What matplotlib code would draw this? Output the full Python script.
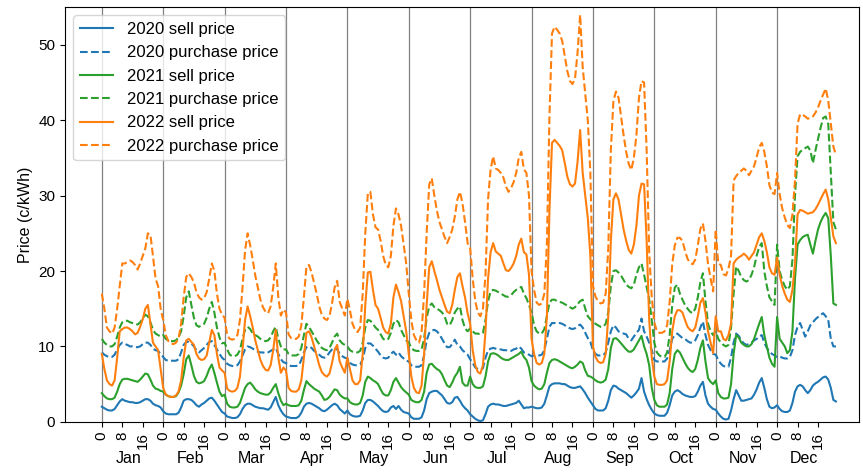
import numpy as np
import matplotlib
matplotlib.use("Agg")
import matplotlib.pyplot as plt
import matplotlib.transforms as mtransforms

plt.rcParams['font.family'] = ['Liberation Sans', 'DejaVu Sans']

months = ['Jan', 'Feb', 'Mar', 'Apr', 'May', 'Jun',
          'Jul', 'Aug', 'Sep', 'Oct', 'Nov', 'Dec']
hour_ticks = [0, 8, 16]

# average hourly prices (c/kWh), one row of 24 hours per month
sell_2020 = [
    [2.0, 1.8, 1.6, 1.5, 1.5, 1.7, 2.2, 2.7, 3.0, 2.8, 2.7, 2.6, 2.6, 2.5, 2.5, 2.6, 2.8, 3.0, 3.0, 2.8, 2.4, 2.2, 2.1, 1.9],
    [1.4, 1.1, 1.0, 1.0, 1.0, 1.0, 1.2, 1.9, 2.8, 3.0, 3.0, 2.9, 2.6, 2.2, 2.0, 2.3, 2.5, 2.8, 3.1, 3.2, 2.8, 2.3, 1.8, 1.3],
    [1.1, 0.7, 0.6, 0.5, 0.5, 0.6, 1.0, 1.7, 2.2, 2.4, 2.4, 2.2, 2.0, 1.9, 1.8, 1.8, 1.7, 1.6, 1.9, 2.6, 3.3, 2.2, 1.5, 1.0],
    [0.7, 0.6, 0.5, 0.5, 0.5, 0.7, 1.2, 2.0, 2.4, 2.5, 2.4, 2.2, 2.0, 1.8, 1.5, 1.4, 1.6, 1.9, 2.2, 2.4, 2.2, 1.7, 1.4, 1.1],
    [1.5, 1.0, 0.8, 0.7, 0.7, 0.8, 1.5, 2.5, 2.9, 2.9, 2.7, 2.4, 2.1, 1.7, 1.4, 1.3, 1.4, 1.9, 2.1, 1.7, 2.1, 1.6, 1.3, 1.2],
    [1.1, 0.6, 0.4, 0.4, 0.4, 0.6, 1.5, 3.0, 3.8, 4.0, 4.1, 4.1, 3.8, 3.5, 3.0, 2.5, 2.4, 2.6, 3.2, 3.3, 2.8, 2.2, 1.8, 1.5],
    [1.0, 0.7, 0.4, 0.2, 0.1, 0.2, 1.0, 2.0, 2.3, 2.4, 2.3, 2.3, 2.2, 2.1, 2.1, 2.2, 2.3, 2.4, 2.5, 2.8, 2.3, 1.8, 1.9, 1.9],
    [2.0, 1.9, 1.8, 1.8, 1.9, 2.4, 3.5, 4.7, 5.0, 5.1, 5.1, 5.1, 5.0, 5.0, 4.8, 4.6, 4.5, 4.5, 4.6, 4.7, 4.3, 3.8, 3.2, 2.7],
    [2.2, 1.7, 1.5, 1.5, 1.5, 1.8, 2.8, 4.2, 4.8, 4.7, 4.4, 4.2, 4.0, 3.8, 3.5, 3.2, 3.5, 3.9, 4.4, 5.8, 4.0, 3.0, 2.2, 1.6],
    [1.1, 0.9, 0.8, 0.8, 0.8, 1.2, 2.2, 3.5, 4.0, 4.2, 4.0, 3.7, 3.5, 3.4, 3.3, 3.3, 3.4, 4.0, 4.8, 5.3, 3.5, 2.4, 2.0, 1.7],
    [1.6, 1.1, 0.7, 0.4, 0.3, 0.4, 1.5, 3.0, 4.2, 3.5, 2.8, 2.8, 2.9, 3.0, 3.1, 3.6, 4.3, 5.2, 5.8, 4.5, 3.0, 2.0, 1.8, 1.9],
    [2.2, 1.7, 1.4, 1.3, 1.3, 1.5, 2.5, 4.0, 4.7, 4.9, 4.7, 4.2, 3.8, 4.2, 4.8, 5.1, 5.3, 5.6, 5.9, 6.0, 5.6, 4.5, 2.9, 2.7],
]
purchase_2020 = [
    [9.2, 8.9, 8.7, 8.6, 8.6, 8.9, 9.6, 10.2, 10.5, 10.3, 10.2, 10.0, 10.0, 9.9, 9.9, 10.0, 10.3, 10.5, 10.5, 10.2, 9.7, 9.5, 9.4, 9.0],
    [8.6, 8.2, 8.1, 8.1, 8.1, 8.1, 8.3, 9.2, 10.2, 10.6, 10.6, 10.4, 10.0, 9.5, 9.2, 9.5, 9.8, 10.2, 10.6, 10.7, 10.2, 9.6, 9.0, 8.5],
    [8.2, 7.7, 7.5, 7.4, 7.4, 7.5, 8.0, 8.8, 9.6, 10.0, 9.9, 9.7, 9.5, 9.3, 9.2, 9.2, 9.1, 9.2, 9.4, 9.6, 9.8, 9.0, 8.3, 7.9],
    [7.8, 7.5, 7.4, 7.4, 7.4, 7.5, 8.2, 9.2, 9.9, 10.0, 9.8, 9.4, 9.2, 8.9, 8.6, 8.5, 8.7, 9.2, 9.6, 9.9, 9.6, 9.0, 8.7, 8.5],
    [8.4, 7.8, 7.6, 7.5, 7.5, 7.6, 8.3, 9.8, 10.4, 10.4, 10.1, 9.7, 9.3, 8.8, 8.5, 8.4, 8.5, 9.0, 9.3, 8.9, 9.2, 8.7, 8.4, 8.1],
    [8.0, 7.5, 7.3, 7.3, 7.3, 7.5, 8.8, 10.8, 11.8, 12.1, 12.2, 12.0, 11.6, 11.0, 10.4, 9.9, 9.9, 10.3, 10.9, 10.2, 10.0, 9.5, 9.2, 8.9],
    [8.3, 7.8, 7.2, 7.0, 6.9, 7.1, 8.5, 9.5, 9.7, 9.8, 9.7, 9.6, 9.6, 9.5, 9.5, 9.4, 9.4, 9.6, 9.7, 10.0, 9.7, 9.2, 9.1, 8.9],
    [8.7, 8.8, 8.8, 8.8, 8.9, 9.5, 11.0, 12.6, 13.1, 13.1, 13.1, 13.1, 13.0, 12.8, 12.6, 12.4, 12.3, 12.4, 12.7, 12.9, 12.5, 11.8, 11.1, 10.6],
    [9.5, 9.0, 8.8, 8.8, 8.8, 9.2, 10.5, 12.0, 12.8, 12.5, 12.0, 11.8, 11.7, 11.6, 11.0, 10.8, 11.3, 11.8, 12.2, 13.7, 12.0, 11.3, 10.5, 9.5],
    [8.2, 8.0, 8.0, 8.0, 8.0, 8.4, 9.5, 11.0, 11.5, 11.7, 11.4, 11.1, 11.0, 10.7, 10.5, 10.5, 10.8, 11.5, 12.5, 13.3, 11.5, 10.2, 9.5, 9.0],
    [8.9, 8.2, 7.7, 7.4, 7.3, 7.3, 8.5, 10.5, 11.7, 11.4, 10.8, 10.4, 10.2, 10.3, 10.5, 10.8, 11.0, 11.3, 11.5, 10.5, 9.8, 9.3, 9.0, 8.8],
    [8.6, 8.7, 8.5, 8.4, 8.4, 8.6, 9.5, 11.5, 12.6, 13.1, 12.2, 11.3, 12.0, 12.8, 13.2, 13.6, 13.9, 14.2, 14.4, 14.0, 13.5, 11.0, 10.0, 10.0],
]
sell_2021 = [
    [3.8, 3.4, 3.1, 3.0, 3.0, 3.2, 4.0, 5.0, 5.6, 5.7, 5.7, 5.6, 5.5, 5.4, 5.3, 5.6, 6.0, 6.4, 6.3, 5.6, 4.8, 4.4, 4.3, 4.1],
    [4.0, 3.6, 3.4, 3.3, 3.3, 3.4, 3.9, 4.8, 6.3, 8.3, 8.8, 7.5, 6.1, 5.3, 5.1, 5.2, 5.4, 6.1, 7.0, 7.6, 6.5, 5.2, 4.0, 3.4],
    [3.6, 2.4, 2.0, 1.9, 1.9, 2.0, 2.5, 3.5, 4.5, 5.0, 5.2, 4.8, 4.3, 4.0, 3.8, 3.7, 3.6, 3.6, 3.9, 4.5, 5.0, 3.8, 2.8, 2.2],
    [2.4, 2.2, 2.1, 2.1, 2.1, 2.2, 2.8, 4.2, 5.4, 5.0, 4.7, 4.4, 4.2, 4.0, 3.5, 2.9, 3.0, 3.3, 3.8, 4.3, 4.2, 3.6, 3.3, 3.1],
    [3.1, 2.6, 2.4, 2.3, 2.3, 2.5, 3.5, 5.3, 6.0, 5.8, 5.5, 5.3, 5.0, 4.3, 3.7, 3.5, 3.5, 4.2, 5.3, 5.8, 5.2, 4.6, 4.2, 3.9],
    [3.6, 2.9, 2.7, 2.6, 2.6, 2.9, 4.0, 6.5, 7.6, 7.7, 7.3, 7.0, 6.8, 6.3, 5.5, 4.8, 4.6, 5.2, 6.0, 6.5, 7.3, 5.2, 4.8, 4.8],
    [6.0, 5.0, 4.6, 4.5, 4.5, 4.7, 6.0, 8.0, 9.0, 9.1, 9.0, 8.8, 8.5, 8.3, 8.2, 8.2, 8.4, 8.6, 8.8, 9.0, 9.3, 8.6, 8.2, 7.2],
    [5.4, 4.8, 4.5, 4.3, 4.4, 5.0, 6.5, 7.8, 8.2, 8.3, 8.2, 8.0, 7.8, 7.6, 7.4, 7.2, 7.1, 7.3, 7.6, 8.0, 7.8, 6.8, 6.1, 6.0],
    [5.8, 5.5, 5.3, 5.2, 5.3, 5.6, 7.0, 9.8, 11.0, 11.1, 10.8, 10.4, 10.0, 9.6, 9.3, 9.3, 9.6, 10.2, 10.8, 11.4, 10.0, 9.0, 7.5, 4.5],
    [2.9, 2.2, 2.0, 2.0, 2.0, 2.3, 3.8, 7.0, 9.0, 9.5, 9.2, 8.5, 7.8, 7.2, 6.8, 6.6, 7.0, 8.2, 9.8, 10.8, 8.0, 5.8, 5.3, 5.0],
    [5.5, 3.8, 3.3, 3.1, 3.1, 3.2, 5.0, 9.0, 11.5, 11.2, 10.5, 10.2, 10.0, 10.0, 10.3, 11.0, 12.0, 13.0, 13.9, 11.5, 10.0, 8.5, 7.7, 7.3],
    [13.9, 11.0, 10.5, 10.0, 9.1, 9.5, 12.0, 19.0, 23.5, 24.1, 24.5, 24.7, 24.8, 23.5, 22.3, 24.0, 25.5, 26.5, 27.2, 27.7, 27.0, 22.0, 15.7, 15.5],
]
purchase_2021 = [
    [11.0, 10.5, 10.2, 10.0, 10.0, 10.3, 11.3, 12.5, 13.2, 13.4, 13.4, 13.2, 13.1, 13.0, 12.9, 13.2, 13.7, 14.2, 14.0, 13.2, 12.2, 11.7, 11.5, 11.3],
    [11.5, 11.0, 10.8, 10.7, 10.7, 10.8, 11.2, 12.0, 14.0, 16.5, 17.3, 15.5, 13.8, 12.8, 12.6, 12.8, 13.0, 13.8, 15.0, 15.9, 14.5, 12.5, 11.2, 10.4],
    [10.5, 9.6, 8.9, 8.7, 8.7, 8.9, 9.5, 11.0, 12.2, 12.6, 12.3, 11.7, 11.5, 11.3, 11.0, 10.8, 10.7, 10.8, 11.2, 12.0, 12.6, 11.0, 10.0, 9.6],
    [9.6, 9.0, 8.8, 8.8, 8.8, 9.0, 9.8, 11.5, 13.0, 12.6, 12.0, 11.4, 10.8, 10.3, 9.8, 9.6, 9.5, 9.8, 10.5, 11.3, 11.7, 10.8, 10.4, 10.2],
    [10.0, 9.5, 9.3, 9.2, 9.2, 9.4, 10.5, 12.5, 13.5, 13.4, 13.0, 12.5, 12.2, 11.6, 11.0, 10.8, 11.0, 11.8, 13.0, 13.5, 13.2, 12.2, 11.5, 10.8],
    [10.5, 9.8, 9.5, 9.4, 9.4, 9.6, 11.0, 13.8, 15.3, 15.7, 15.2, 15.0, 14.8, 14.5, 14.0, 13.0, 12.8, 13.5, 14.5, 15.0, 15.3, 13.5, 12.4, 12.0],
    [12.4, 12.0, 11.7, 11.7, 11.6, 11.8, 13.5, 16.0, 17.3, 17.5, 17.4, 17.2, 17.0, 16.8, 16.6, 16.6, 16.8, 17.2, 17.5, 17.7, 17.9, 17.0, 16.4, 15.5],
    [14.5, 12.8, 12.0, 11.7, 11.7, 12.3, 14.0, 15.8, 16.2, 16.2, 16.0, 15.9, 15.8, 15.6, 15.4, 15.2, 15.0, 15.2, 15.6, 16.0, 16.2, 15.0, 14.0, 13.6],
    [13.3, 13.0, 12.8, 12.6, 12.6, 13.0, 14.5, 18.0, 20.0, 20.1, 19.8, 19.4, 18.8, 18.2, 17.9, 17.7, 18.2, 19.5, 20.5, 21.0, 19.5, 17.9, 16.2, 13.5],
    [10.5, 9.2, 8.8, 8.6, 8.6, 9.2, 11.5, 15.5, 17.8, 18.2, 17.0, 16.2, 15.5, 15.0, 14.6, 14.4, 15.0, 16.5, 18.5, 19.7, 16.0, 13.0, 12.0, 11.5],
    [12.0, 11.0, 10.5, 10.2, 10.0, 10.2, 12.5, 17.0, 20.6, 20.0, 19.2, 18.8, 18.6, 18.8, 19.5, 20.5, 22.0, 23.2, 23.7, 20.0, 18.0, 16.5, 16.0, 15.5],
    [23.5, 20.0, 18.8, 18.0, 17.5, 18.0, 21.5, 30.0, 35.2, 35.8, 36.1, 36.3, 36.5, 36.0, 34.3, 36.0, 37.5, 39.0, 40.3, 40.5, 39.5, 33.0, 26.5, 25.5],
]
sell_2022 = [
    [9.0, 7.0, 5.5, 5.0, 4.8, 5.5, 8.5, 12.0, 12.3, 12.5, 12.5, 12.3, 12.0, 11.6, 11.8, 12.6, 13.6, 15.0, 15.5, 13.0, 10.5, 10.0, 9.5, 7.0],
    [4.5, 3.6, 3.4, 3.3, 3.3, 3.5, 4.0, 5.5, 8.5, 10.8, 11.0, 10.6, 10.2, 9.0, 8.4, 8.2, 8.3, 8.8, 10.5, 12.2, 11.5, 9.0, 7.2, 6.8],
    [6.5, 4.4, 4.1, 4.0, 4.1, 4.5, 6.0, 9.5, 13.5, 15.3, 14.0, 12.5, 10.8, 9.5, 8.2, 7.4, 6.9, 6.8, 7.5, 9.5, 12.2, 8.5, 6.5, 7.2],
    [6.8, 4.5, 4.1, 4.0, 4.0, 4.3, 5.5, 8.5, 11.8, 12.0, 11.2, 10.0, 8.8, 7.5, 6.6, 6.2, 6.0, 6.4, 7.8, 9.5, 10.2, 8.0, 7.2, 6.5],
    [8.5, 7.0, 5.5, 5.0, 5.0, 5.5, 9.0, 15.5, 19.8, 19.9, 17.5, 15.5, 15.0, 13.8, 12.5, 11.9, 11.7, 13.0, 16.5, 18.2, 17.2, 16.0, 14.0, 12.0],
    [9.0, 6.0, 4.5, 3.9, 3.8, 4.8, 9.0, 15.5, 20.5, 21.3, 20.0, 18.8, 17.5, 16.5, 15.5, 14.6, 14.4, 15.5, 17.5, 19.2, 19.7, 18.0, 16.5, 14.4],
    [13.0, 9.5, 7.5, 6.6, 6.4, 7.5, 12.0, 19.0, 22.5, 23.7, 22.6, 22.3, 22.0, 21.0, 20.1, 20.0, 20.4, 21.0, 22.0, 23.5, 24.3, 22.5, 22.2, 19.5],
    [11.0, 9.0, 7.8, 7.6, 7.8, 9.0, 14.0, 28.0, 37.0, 37.4, 37.0, 36.6, 36.0, 34.3, 32.5, 31.5, 31.2, 31.6, 34.5, 38.7, 33.0, 30.0, 27.0, 22.0],
    [10.0, 8.6, 8.0, 7.8, 7.9, 9.0, 14.0, 24.0, 29.5, 30.3, 29.5, 27.5, 25.5, 24.0, 22.8, 22.3, 23.5, 26.0, 30.0, 31.6, 31.5, 24.0, 13.5, 8.5],
    [6.0, 5.0, 4.9, 4.9, 5.0, 5.5, 8.0, 12.0, 14.0, 14.8, 14.8, 14.5, 13.5, 12.6, 12.2, 12.0, 12.5, 14.0, 15.8, 16.4, 14.5, 12.0, 10.5, 9.1],
    [14.0, 12.0, 12.0, 11.0, 10.8, 11.5, 13.0, 21.0, 21.5, 21.8, 22.0, 22.3, 22.0, 21.5, 22.0, 22.5, 23.5, 24.5, 25.0, 24.0, 22.5, 20.5, 19.7, 19.5],
    [21.8, 19.5, 18.0, 17.0, 16.2, 15.9, 17.5, 21.0, 27.5, 28.1, 28.0, 27.8, 27.6, 27.7, 27.8, 28.2, 28.8, 29.5, 30.2, 30.8, 29.5, 27.0, 24.6, 23.7],
]
purchase_2022 = [
    [17.0, 15.0, 12.5, 12.0, 11.7, 12.5, 15.0, 18.0, 21.0, 21.0, 21.2, 21.4, 21.2, 20.8, 20.2, 21.0, 22.0, 23.0, 25.0, 24.8, 22.0, 19.0, 18.0, 15.0],
    [13.5, 11.5, 10.7, 10.4, 10.3, 10.5, 11.0, 13.0, 16.5, 19.2, 19.7, 19.2, 18.5, 17.2, 16.5, 16.2, 16.4, 17.2, 19.0, 21.0, 20.0, 17.0, 15.0, 14.2],
    [13.8, 11.5, 11.0, 10.9, 11.0, 11.5, 13.5, 17.8, 22.7, 25.0, 23.4, 21.5, 19.4, 17.8, 16.2, 15.2, 14.6, 14.4, 15.3, 17.8, 21.0, 16.5, 14.1, 14.9],
    [14.5, 11.6, 11.1, 11.0, 11.0, 11.3, 12.8, 16.5, 20.6, 20.8, 19.8, 18.4, 17.0, 15.3, 14.2, 13.7, 13.5, 14.0, 15.7, 17.8, 18.7, 15.9, 15.0, 14.1],
    [16.3, 14.8, 13.0, 12.2, 11.9, 12.5, 17.0, 25.0, 30.3, 30.5, 27.5, 25.8, 25.5, 24.0, 22.0, 20.8, 20.5, 22.0, 26.0, 28.3, 27.5, 26.0, 23.5, 21.0],
    [17.0, 13.5, 11.5, 10.8, 10.5, 11.8, 17.0, 25.0, 31.5, 32.3, 30.0, 28.0, 26.5, 25.5, 24.5, 23.7, 24.5, 25.5, 27.2, 29.5, 30.5, 29.0, 26.5, 23.7],
    [23.0, 19.0, 16.0, 14.5, 14.0, 15.0, 19.5, 29.5, 33.5, 35.2, 33.6, 33.4, 33.0, 32.4, 31.2, 30.5, 31.0, 31.8, 33.0, 35.0, 35.8, 33.5, 33.0, 30.0],
    [20.0, 17.5, 15.8, 15.5, 15.7, 17.0, 23.5, 40.5, 51.5, 52.4, 52.0, 51.5, 50.5, 48.5, 46.5, 45.2, 44.8, 45.5, 49.0, 54.0, 47.0, 43.5, 40.0, 33.0],
    [18.0, 16.6, 16.0, 15.7, 15.8, 17.0, 23.0, 36.0, 42.5, 43.8, 43.0, 40.5, 38.0, 35.8, 34.2, 33.4, 35.0, 38.0, 43.0, 45.2, 45.0, 36.0, 22.5, 16.5],
    [13.2, 12.0, 11.8, 11.8, 12.0, 12.8, 15.9, 20.9, 23.4, 24.4, 24.4, 24.0, 22.7, 21.6, 21.1, 20.9, 21.5, 23.4, 25.6, 26.3, 24.0, 20.9, 19.0, 17.3],
    [25.5, 21.0, 20.8, 19.6, 19.4, 20.3, 22.0, 32.0, 32.6, 33.0, 33.3, 33.6, 33.3, 32.7, 33.3, 33.9, 35.1, 36.4, 37.0, 35.8, 33.9, 31.4, 30.4, 30.2],
    [33.0, 30.2, 28.3, 27.1, 26.1, 25.7, 27.5, 32.0, 39.5, 40.8, 40.7, 40.5, 40.2, 40.3, 40.5, 41.0, 41.7, 42.6, 43.4, 44.2, 42.6, 39.5, 36.5, 35.4],
]

series = [
    ('2020 sell price', sell_2020, 'C0', '-'),
    ('2020 purchase price', purchase_2020, 'C0', '--'),
    ('2021 sell price', sell_2021, 'C2', '-'),
    ('2021 purchase price', purchase_2021, 'C2', '--'),
    ('2022 sell price', sell_2022, 'C1', '-'),
    ('2022 purchase price', purchase_2022, 'C1', '--'),
]

fig = plt.figure(figsize=(8.63, 4.75), dpi=100)
ax = fig.add_axes([0.0753, 0.112, 0.92, 0.873])

n_hours = 24 * len(months)
x = np.arange(n_hours)

# month separators
for m in range(len(months)):
    ax.axvline(m * 24, color='grey', lw=0.9)

for label, values, color, ls in series:
    ax.plot(x, np.concatenate(values), color=color, ls=ls, lw=1.5, label=label)

ticks = [m * 24 + h for m in range(len(months)) for h in hour_ticks]
ax.set_xticks(ticks)
ax.set_xticklabels([str(h) for m in range(len(months)) for h in hour_ticks],
                   rotation=90)
ax.tick_params(labelsize=11)

trans = mtransforms.blended_transform_factory(ax.transData, ax.transAxes)
for m, name in enumerate(months):
    ax.text(m * 24 + 10.5, -0.088, name, transform=trans,
            ha='center', va='center', fontsize=11.5)

ax.set_xlim(-14.4, 296)
ax.set_ylim(0, 55)
ax.set_yticks([0, 10, 20, 30, 40, 50])
ax.set_ylabel('Price (c/kWh)', fontsize=11.5)
ax.legend(loc='upper left', fontsize=12)

fig.savefig('out.png', dpi=100)
